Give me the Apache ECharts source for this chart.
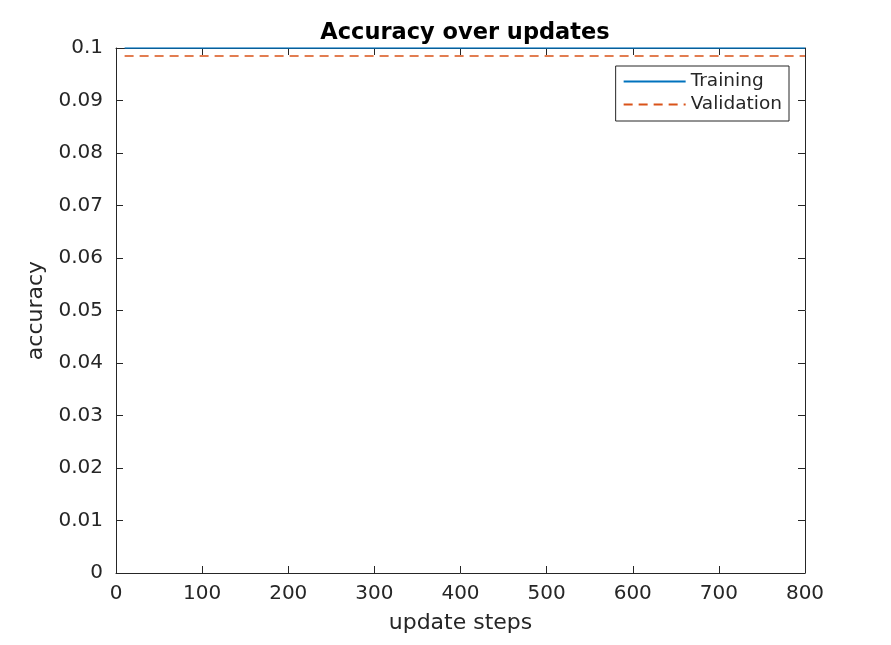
<!DOCTYPE html>
<html>
<head>
<meta charset="utf-8">
<script src="https://cdn.jsdelivr.net/npm/echarts@6/dist/echarts.min.js"></script>
<style>
  html, body { margin: 0; padding: 0; background: #fff; }
  #chart { width: 891px; height: 645px; }
</style>
</head>
<body>
<div id="chart"></div>
<script>
// data
const steps = [10, 100, 200, 300, 400, 500, 600, 700, 800]
const training = [0.1, 0.1, 0.1, 0.1, 0.1, 0.1, 0.1, 0.1, 0.1]
const validation = [0.0985, 0.0985, 0.0985, 0.0985, 0.0985, 0.0985, 0.0985, 0.0985, 0.0985]

const font = 'DejaVu Sans'
const txt = '#262626'

const pairs = (xs, ys) => xs.map((x, i) => [x, ys[i]])

// mirrored axes (top / right) with inward ticks, like the matlab box
const boxAxis = {
  axisLine: { show: true, onZero: false, lineStyle: { color: txt, width: 1 } },
  axisTick: { show: true, inside: true, length: 7, lineStyle: { color: txt } },
  axisLabel: { show: false },
  splitLine: { show: false }
}

const chart = echarts.init(document.getElementById('chart'))
chart.setOption({
  animation: false,
  backgroundColor: '#fff',
  title: {
    text: 'Accuracy over updates',
    left: 460, top: 17, textAlign: 'center',
    textStyle: { fontFamily: font, fontSize: 22.5, fontWeight: 'bold', color: '#000' }
  },
  grid: { left: 116, right: 86, top: 48, bottom: 72 },
  legend: {
    right: 102, top: 66,
    orient: 'vertical',
    itemWidth: 62, itemHeight: 16, itemGap: 4,
    padding: [6, 7, 7, 7],
    borderColor: txt, borderWidth: 1,
    backgroundColor: '#fff',
    itemStyle: { opacity: 0 },
    textStyle: { fontFamily: font, fontSize: 18.5, color: txt },
    data: ['Training', 'Validation']
  },
  xAxis: [
    {
      type: 'value', min: 0, max: 800, interval: 100,
      name: 'update steps', nameLocation: 'middle', nameGap: 39,
      nameTextStyle: { fontFamily: font, fontSize: 22, color: txt },
      axisLine: { show: true, onZero: false, lineStyle: { color: txt } },
      axisTick: { show: true, inside: true, length: 7, lineStyle: { color: txt } },
      axisLabel: { fontFamily: font, fontSize: 20, color: txt, margin: 11 },
      splitLine: { show: false }
    },
    Object.assign({ type: 'value', min: 0, max: 800, interval: 100, position: 'top' }, boxAxis)
  ],
  yAxis: [
    {
      type: 'value', min: 0, max: 0.1, interval: 0.01,
      name: 'accuracy', nameLocation: 'middle', nameGap: 63,
      nameTextStyle: { fontFamily: font, fontSize: 22, color: txt },
      axisLine: { show: true, onZero: false, lineStyle: { color: txt } },
      axisTick: { show: true, inside: true, length: 7, lineStyle: { color: txt } },
      axisLabel: {
        fontFamily: font, fontSize: 20, color: txt, margin: 13,
        formatter: v => String(+v.toFixed(2))
      },
      splitLine: { show: false }
    },
    Object.assign({ type: 'value', min: 0, max: 0.1, interval: 0.01, position: 'right' }, boxAxis)
  ],
  series: [
    {
      name: 'Training', type: 'line', symbol: 'none', z: 10,
      data: pairs(steps, training),
      lineStyle: { color: '#0072BD', width: 1.5 },
      itemStyle: { color: '#0072BD' }
    },
    {
      name: 'Validation', type: 'line', symbol: 'none', z: 9,
      data: pairs(steps, validation),
      lineStyle: { color: '#D95319', width: 1.5, type: [9, 6] },
      itemStyle: { color: '#D95319' }
    }
  ]
})
</script>
</body>
</html>
